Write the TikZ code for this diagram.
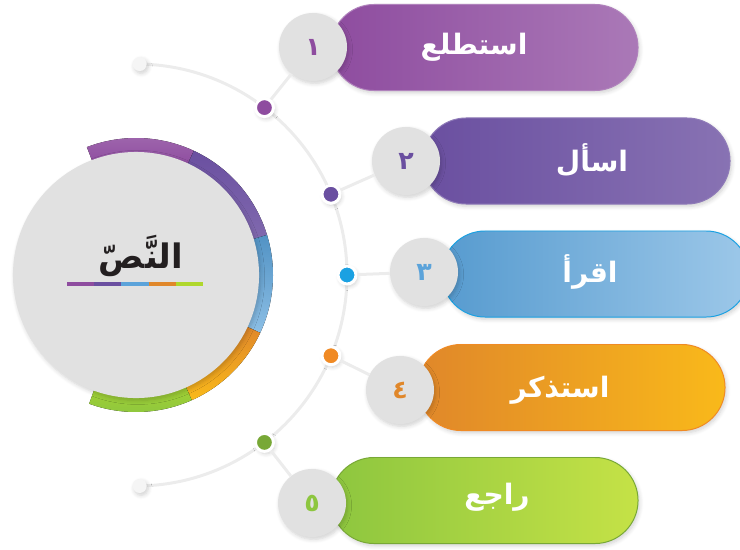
\documentclass[tikz,border=0pt]{standalone}
\usepackage{fontspec}
\newfontfamily\arabicfont[Script=Arabic]{DejaVu Sans}
\TeXXeTstate=1
\usetikzlibrary{shadows.blur}
\definecolor{numgray}{HTML}{E1E1E1}
\definecolor{txtblack}{HTML}{231F20}
\definecolor{cpurple}{HTML}{8E4C9F}
\definecolor{cviolet}{HTML}{6A4FA0}
\definecolor{cblue}{HTML}{5BA3DA}
\definecolor{ccyan}{HTML}{1BA1E2}
\definecolor{corange}{HTML}{E0872A}
\definecolor{cdot}{HTML}{F08A24}
\definecolor{cyellow}{HTML}{F9B91A}
\definecolor{cgreen}{HTML}{8DC63F}
\newcommand{\ar}[1]{\arabicfont\bfseries\beginR #1\endR}

\begin{document}
\begin{tikzpicture}[x=0.025cm, y=0.025cm, every node/.style={inner sep=0pt, align=center}]
	\tikzset{
		soft/.style = {blur shadow={shadow blur steps=6, shadow xshift=0.4mm, shadow yshift=-0.6mm, shadow blur radius=1mm, shadow opacity=18}},
		pill/.style = {rectangle, rounded corners=1.075cm, minimum width=7.675cm, minimum height=2.15cm, line width=0.7pt, soft},
		numbox/.style = {circle, fill=numgray, minimum size=1.7cm, font=\fontsize{18}{20}\selectfont, soft},
		dot/.style = {circle, draw=white, line width=0.075cm, minimum size=0.45cm, soft},
		pilltext/.style = {text=white, font=\fontsize{20}{24}\selectfont},
		link/.style = {draw=gray!15, line width=0.075cm},
		ending/.style = {circle, fill=gray!8, minimum size=0.35cm, soft},
	}
	\useasboundingbox (0,0) rectangle (740,549);

	\coordinate (c) at (136,274);
	\coordinate (top) at ([shift={(89:211)}]c);
	\coordinate (bottom) at ([shift={(-89:211)}]c);
	\draw[link] (top) arc[start angle=89, end angle=-89, radius=211];

	\node[pill, draw=cpurple!70!white, left color=cpurple, right color=cpurple!75!white] (p1) at (484.5,501.5) {};
	\node[pill, draw=cviolet!75!white, left color=cviolet, right color=cviolet!80!white] (p2) at (576.5,388) {};
	\node[pill, draw=ccyan, left color=cblue!95!black, right color=cblue!60!white] (p3) at (595.5,275) {};
	\node[pill, draw=cdot, left color=corange, right color=cyellow] (p4) at (571.5,161.5) {};
	\node[pill, draw=cgreen!85!black, left color=cgreen, right color=cgreen!60!yellow!85!white] (p5) at (484.5,48.5) {};

	\node[pilltext] (t1) at (474,502) {\ar{استطلع}};
	\node[pilltext] (t2) at (592,389) {\ar{اسأل}};
	\node[pilltext] (t3) at (590,277) {\ar{اقرأ}};
	\node[pilltext] (t4) at (560,159) {\ar{استذكر}};
	\node[pilltext] (t5) at (497,52) {\ar{راجع}};

	\node[numbox, text=cpurple] (n1) at (313,502) {\ar{١}};
	\node[numbox, text=cviolet] (n2) at (406,388) {\ar{٢}};
	\node[numbox, text=cblue] (n3) at (424,277) {\ar{٣}};
	\node[numbox, text=corange] (n4) at (400,159) {\ar{٤}};
	\node[numbox, text=cgreen] (n5) at (312,46) {\ar{٥}};

	\node[dot, fill=cpurple] (d1) at ([shift={(52.5:211)}]c) {};
	\node[dot, fill=cviolet] (d2) at ([shift={(22.5:211)}]c) {};
	\node[dot, fill=ccyan] (d3) at ([shift={(0:211)}]c) {};
	\node[dot, fill=cdot] (d4) at ([shift={(-22.5:211)}]c) {};
	\node[dot, fill=cgreen!85!black] (d5) at ([shift={(-52.5:211)}]c) {};
	\node[ending] (e1) at (top) {};
	\node[ending] (e2) at (bottom) {};

	\foreach \i in {1,...,5}
		\draw[link] (d\i) -- (n\i);

	\begin{scope}[shift={(136,274)}]
		\foreach \a/\b/\c/\d in {111/65/cpurple!85!white/cpurple, 65/17/cviolet/cviolet!85!white, 17/-25/cblue!90!black/cblue!70!white, -25/-66/corange/cyellow, -66/-110/cgreen!80!yellow/cgreen}
			\fill[top color=\c, bottom color=\d] (\a:137) arc[start angle=\a, end angle=\b, radius=137] -- (\b:120) arc[start angle=\b, end angle=\a, radius=120] -- cycle;
	\end{scope}
	\node[circle, fill=numgray, minimum size=6.15cm, soft] (txt) at (c) {};
	\node[anchor=base, text=txtblack, font=\fontsize{24}{28}\selectfont] (title) at (141,281) {\ar{النَّصّ}};
	\foreach \c [count=\i from 0] in {cpurple, cviolet, cblue, corange, cgreen!70!yellow}
		\draw[\c, line width=0.08cm] (67+27.2*\i,265) -- ++(27.2,0);
\end{tikzpicture}
\end{document}
